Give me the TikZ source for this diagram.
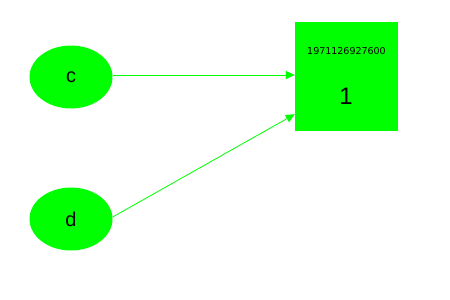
\documentclass[tikz,border=0pt]{standalone}
\usepackage{fontspec}
\setmainfont{Liberation Sans}
\newfontfamily\idfont{DejaVu Sans}
\usetikzlibrary{positioning, arrows.meta, shapes.geometric}
\definecolor{nodegreen}{HTML}{00FF00}

\begin{document}
\begin{tikzpicture}[x=1pt, y=-1pt,
    leaf/.style={ellipse, fill=nodegreen, minimum width=83pt, minimum height=63pt, inner sep=0pt, font=\fontsize{20}{20}\selectfont},
    group/.style={rectangle, fill=nodegreen, minimum width=103pt, minimum height=109pt, inner sep=0pt},
    link/.style={-{Triangle[length=9pt, width=8pt]}, nodegreen, line width=0.8pt}]
  \useasboundingbox (0,0) rectangle (450,300);
  \node[leaf] (c) at (71,77) {c};
  \node[leaf] (d) at (71,219) {d};
  \node[group] (box) at (346.5,76.5) {};
  \node[font=\idfont\fontsize{9.5}{9.5}\selectfont, below=22pt of box.north] (boxid) {1971126927600};
  \node[font=\fontsize{24}{24}\selectfont] (boxnum) at (346,96) {1};
  \coordinate (cin) at ([yshift=2pt]c.east -| box.west);
  \coordinate (din) at ([yshift=17pt]box.south west);
  \draw[link] ([yshift=2pt]c.east) -- (cin);
  \draw[link] ([yshift=2pt]d.east) -- (din);
\end{tikzpicture}
\end{document}
